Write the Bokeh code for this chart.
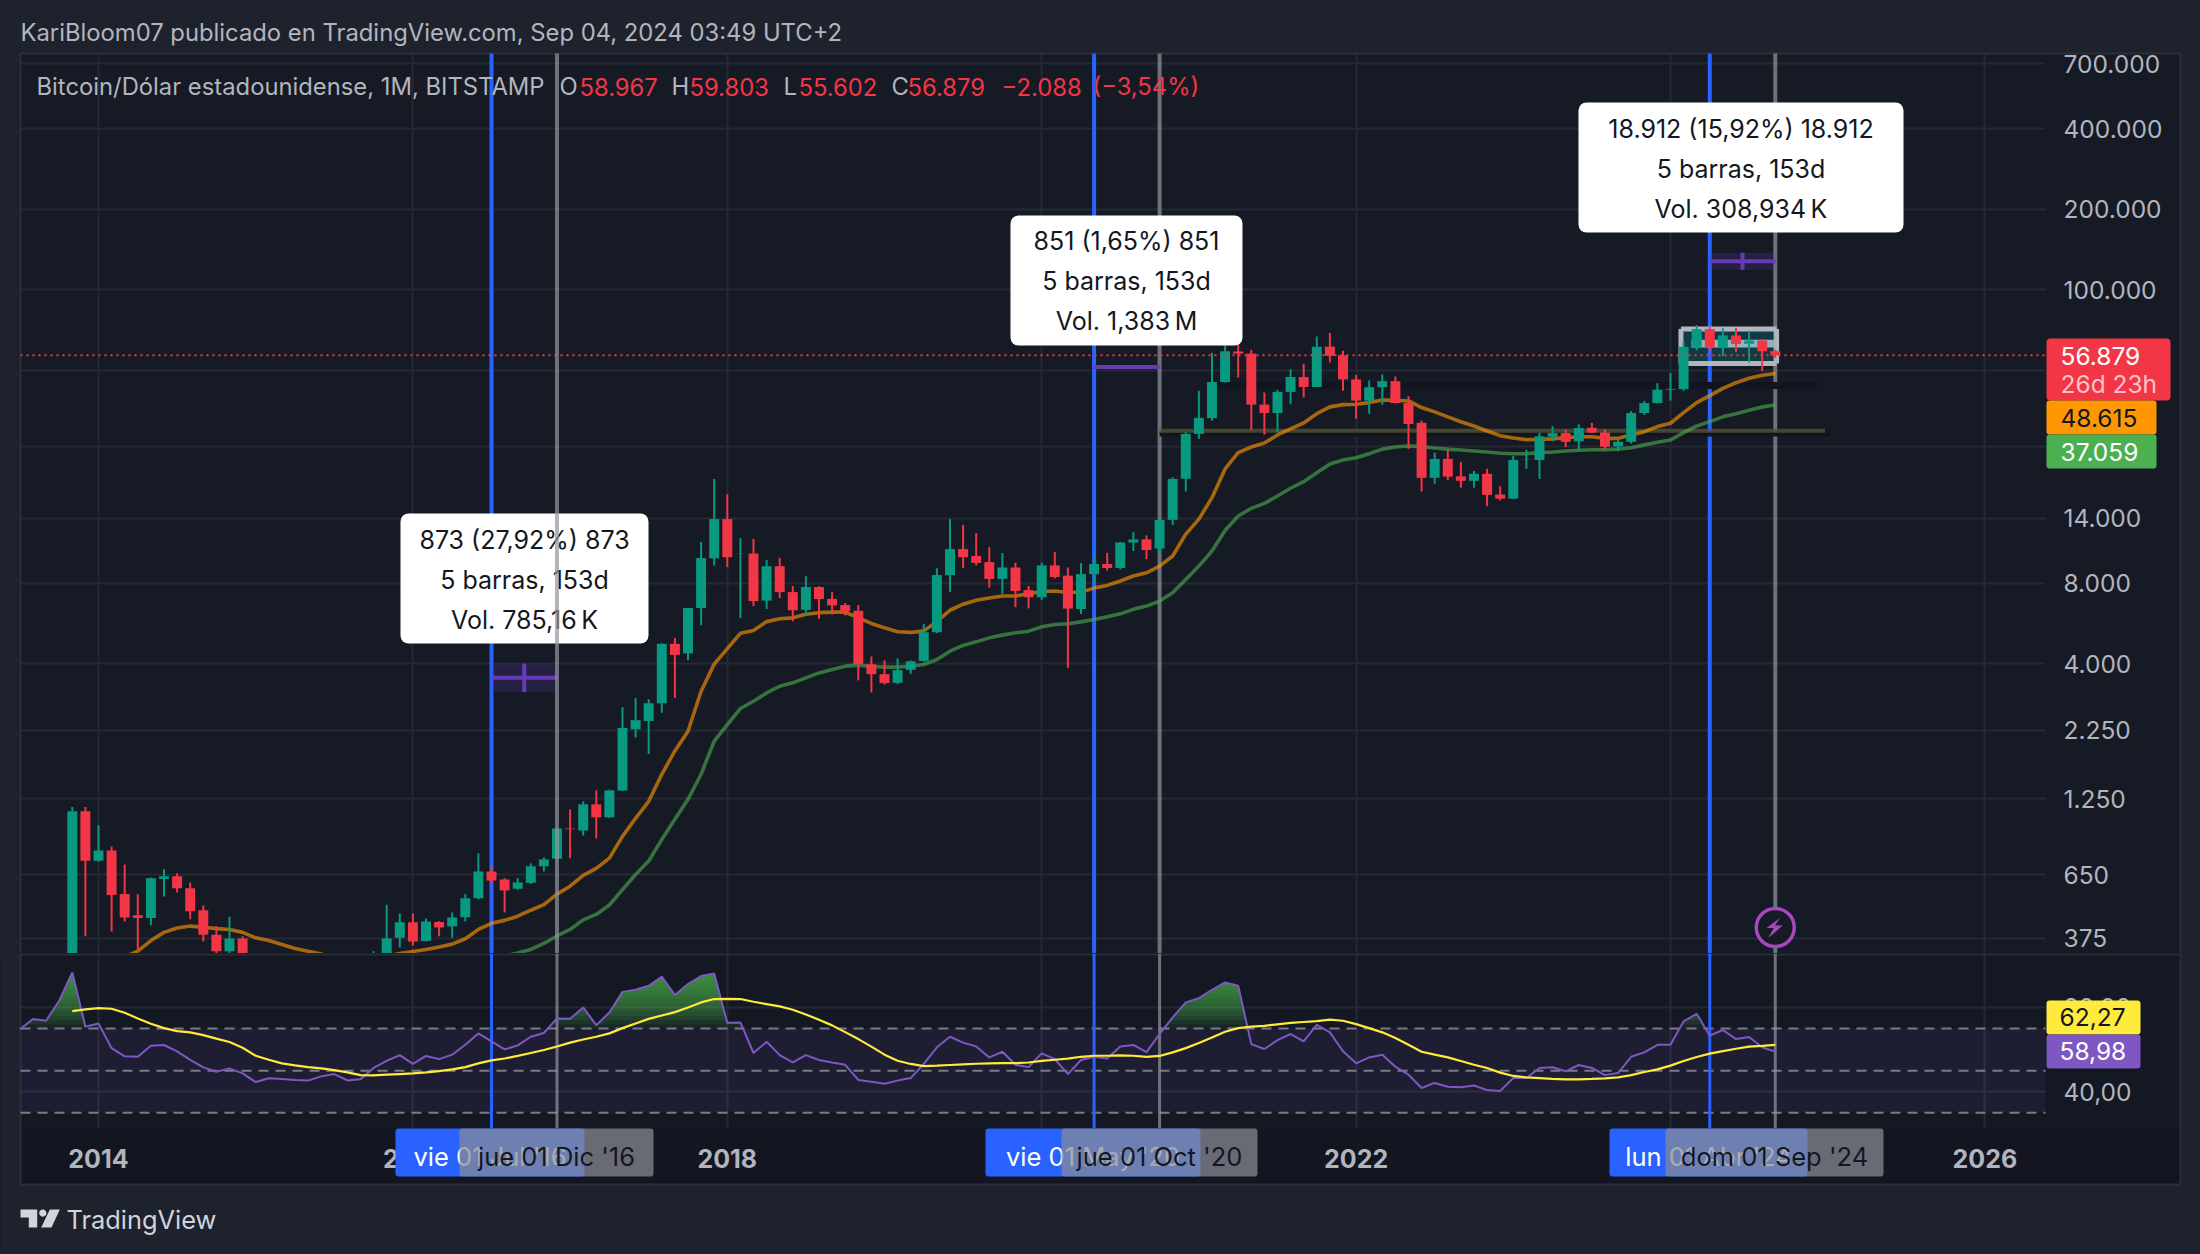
import numpy as np
from bokeh.plotting import figure
from bokeh.layouts import column
from bokeh.models import (Range1d, FixedTicker, Label, BoxAnnotation, PolyAnnotation)
from bokeh.embed import file_html
from bokeh.resources import INLINE

# ---------- data (monthly bars, index 0 = Jan 2014) ----------
first_bar = -2
opens = [206,1120,732,800,550,458,447,625,640,577,478,387,336,375,318,217,254,244,236,230,263,284,230,236,311,377,431,367,432,416,450,530,667,623,575,605,698,745,966,950,1190,1064,1340,2272,2440,2841,4740,4370,6450,9900,13880,10300,10320,6880,9250,7400,6350,7730,6980,6620,6300,3980,3650,3390,3790,4090,5240,8560,10720,10100,9580,8290,9150,7530,7080,9310,8530,6400,8640,9430,9110,11340,11650,10770,13790,19650,28900,33100,45200,58800,57700,37200,34600,41500,47200,43300,61300,56900,46200,38500,43200,45500,37700,31800,19800,23300,20050,19300,20500,17150,16550,23100,23100,28200,29100,27100,30450,29250,25950,27000,34600,37700,42300,42500,61200,71300,60600,67500,62800,64600,58967]
highs = [1163,1163,993,828,709,549,633,680,657,607,498,417,452,382,320,268,300,263,247,268,318,285,247,336,501,465,465,445,435,469,549,780,703,630,630,715,753,966,1140,1220,1342,1350,2746,2975,2941,4760,4990,6470,11390,19600,17200,11780,11700,9760,9950,7800,8480,7780,7400,6730,6620,4250,4110,4180,4110,5620,9090,13880,13190,12300,10900,10370,9530,7800,9530,10450,9150,9500,10080,10380,11400,12400,12060,13900,19900,29300,41900,58100,61700,64900,59600,41300,42200,50500,52900,66900,69000,59100,48000,45800,48200,47400,40000,32400,24600,25200,22700,21000,21400,18400,23900,25200,29200,30900,30000,31400,31800,30100,27500,35200,38400,44700,48900,63900,73800,72700,72000,71900,70000,65500,59803]
lows = [196,382,726,398,434,340,420,538,557,442,365,275,320,300,152,212,235,214,228,220,253,198,225,235,305,347,353,365,382,377,434,525,603,469,570,600,667,740,748,909,887,1060,1335,2119,1835,2617,2975,4110,5570,9300,9180,5920,6560,6400,7030,5760,6050,5880,6100,6050,3460,3120,3340,3350,3660,4060,5200,7400,9100,9300,7700,7300,6500,6430,6900,8330,3860,6130,8020,8920,9000,10540,9830,10270,13200,17600,27700,32400,44900,47000,29900,28700,29300,37300,39600,43200,53500,41900,32900,34400,37200,37600,25400,17600,18800,19400,18200,18200,15500,16300,16500,21400,19600,27100,25800,24800,29100,25300,24900,26600,34000,37600,38500,41900,59300,59200,56500,58500,53500,49600,55602]
closes = [1120,732,800,545,449,447,629,640,577,474,387,336,375,318,217,254,244,236,230,263,284,230,236,311,375,431,365,434,412,449,530,667,617,567,607,698,740,966,960,1190,1064,1342,2297,2456,2841,4740,4310,6450,9920,13880,10000,10320,6850,9250,7400,6330,7730,6970,6600,6270,3980,3650,3380,3780,4080,5240,8570,10720,10000,9520,8290,9150,7470,7080,9310,8430,6420,8640,9430,9110,11340,11650,10630,13770,19620,28900,33200,45200,58900,57700,37200,34600,41500,47200,43300,61200,56600,46200,38500,43200,45500,37700,31500,19800,23300,20000,19300,20500,17100,16550,23100,23150,28300,29100,27000,30400,29250,25900,27000,34600,37700,42300,42600,61200,71300,60600,67500,62700,64600,58900,56879]

ema_orange = [320,336,368,395,410,417,413,408,405,395,377,368,356,344,336,328,315,310,305,305,322,329,335,341,348,357,374,405,427,438,454,478,502,549,588,645,685,749,903,1055,1221,1541,1885,2232,3150,3980,4550,5190,5320,5740,5880,5930,6120,6200,6230,6230,5930,5650,5440,5260,5230,5300,5740,6330,6670,6900,7040,7160,7160,7300,7440,7470,7380,7400,7660,7840,8140,8500,8740,9260,10100,12200,13880,16690,21370,24590,25820,26740,28640,30180,31770,34420,36490,37190,37300,37850,38730,38650,38400,36270,34950,33470,32100,30950,29640,28470,27900,27500,27570,27700,27990,28200,28200,27820,27820,28640,29470,30780,31690,34700,37850,40200,42800,44900,46700,47900,48615]
ema_green = [322,331,341,359,383,405,440,461,500,571,650,730,879,1046,1242,1542,2049,2366,2716,2891,3106,3290,3388,3535,3690,3802,3911,3945,3899,3879,3879,3911,3968,4143,4449,4677,4822,4991,5110,5212,5287,5487,5602,5632,5728,5849,5980,6137,6379,6560,6850,7358,8255,9260,10540,12590,14250,15230,15890,16940,18100,19150,20700,22320,23100,23550,24380,25350,25830,26060,25900,25590,25360,25180,24950,24720,24470,24380,24380,24600,24720,24950,25100,25230,25230,25350,25670,26300,26920,27420,29220,30960,32130,33480,34420,35460,36480,37059]

rsi = [69.7,74.5,73.7,83.2,96.6,70.9,72.4,60.7,56.8,56.6,61.8,62.2,59.2,55.1,51.6,49.5,51.1,48.7,44.6,46.4,46.1,45.6,45.3,47.3,48.4,45.4,45.9,51.3,54.7,57.4,53.2,57,55.5,57.6,62.3,67.7,63.9,60.1,62,66.1,67.9,74.8,74.6,80,71.6,77.6,87.4,88.4,90.3,94.6,85.9,91.1,94.9,96.1,72.7,72.9,58.4,63.7,57.4,53.9,57.4,55.1,53.9,52.8,45.6,44.8,43.8,45.3,46.5,53.2,61.1,66.1,63.3,61.5,56.3,59,52.8,51.7,58.2,55.5,48.4,55.1,56.6,55.8,61.5,62.2,58.8,67.4,75.3,82.4,84.4,88.4,91.9,90.3,62.6,60.3,64.5,67.4,63.9,71.8,68.2,59.2,53.5,56.3,57.6,51.9,48.1,41.8,44.2,42.4,42.1,43,40.8,40.4,46.5,46.5,51.3,51.6,49.7,52.7,51.3,47.9,48.9,56.6,58.7,62.3,62.3,73.4,77,66.6,69.3,65,66,61.1,58.98]
rsi_ma = [78.3,79.1,79.7,79.4,77.5,74.8,72.3,70.2,68.8,68.2,66.9,65.2,63.6,60.9,57.1,55.2,53.5,52.5,51.7,51.1,50.3,49.2,47.9,47.8,48.1,48.4,48.7,49.2,49.8,50.6,51.7,53.5,54.9,55.8,57,58.4,59.8,61.5,63.3,64.8,66.1,67.7,70.2,72.4,74.6,76.2,77.8,80,82.4,84,84.1,84,82.7,81.6,80.5,78.9,76.7,74.2,71.5,68.3,65,61.4,57.6,54.7,53.2,52.2,52.4,52.7,53,53.3,53.5,53.6,53.6,53.9,54.7,55.2,55.7,56.6,57.1,57.1,57.3,57.1,56.6,57,58.7,60.7,63.1,65.8,68.5,70.2,70.9,71.3,72,72.7,73.1,73.5,74.2,73.7,72.1,70.2,68.2,65.5,62.3,59,57.6,56.3,54.6,52.8,51.3,49.1,47.5,46.8,46.5,46.1,45.9,45.9,46.1,46.4,46.8,47.9,49.4,50.6,52.4,54.6,56.5,58.1,59.3,60.4,61.4,61.8,62.27]

price_ticks = [700000,400000,200000,100000,50000,26000,14000,8000,4000,2250,1250,650,375]
price_labels = ["700.000","400.000","200.000","100.000","50.000","26.000","14.000","8.000","4.000","2.250","1.250","650","375"]
rsi_ticks = [40,80]
rsi_labels = ["40,00","80,00"]
year_ticks = [0,24,48,72,96,120,144]
year_labels = ["2014","2016","2018","2020","2022","2024","2026"]

range_starts = [30,76,123]      # Jul '16, May '20, Apr '24
range_ends = [35,81,128]        # Dic '16, Oct '20, Sep '24
measure_low = [3127,51000,118800]
measure_high = [4000,51851,137712]
last_price = 56879
level_a = 43900
level_b = 29700
box_low, box_high = 53000, 71400
band_low, band_high = 60800, 65000

# ---------- colours ----------
PAGE="#1E222D"; PANE="#161A25"; PANE2="#141823"; AXISBG="#131620"; GRID="#252934"; BORDER="#2A2E39"
UP="#089981"; DOWN="#F23645"; BLUE="#2962FF"; GRAY="#94959E"; TXT="#B2B5BE"; FONT="Inter"
AXFS="24.5px"; LEGFS="23.8px"; INFOFS="25px"; FLAGFS="25.5px"

# ---------- main pane: the frame fills the canvas, so that every note can be placed freely ----------
B1=953; B2=1254
x_pane_end=148.63; price_top=765000; rsi_bottom=22.7; rsi_top=105.6
p1 = figure(width=2200, height=B1, y_axis_type="log", y_axis_location="right",
            x_range=Range1d(-7.481,160.46), y_range=Range1d(329.3,1207900),
            output_backend="svg", toolbar_location=None, min_border=0, min_border_left=0, min_border_right=0,
            min_border_top=0, min_border_bottom=0, background_fill_color=PANE, border_fill_color=PAGE)
p1.outline_line_color=None
p1.xaxis.visible=False
p1.xgrid.ticker=FixedTicker(ticks=year_ticks)
p1.xgrid.grid_line_color=GRID; p1.xgrid.grid_line_width=2
p1.ygrid.grid_line_color=GRID; p1.ygrid.grid_line_width=2
ya=p1.yaxis[0]
ya.fixed_location=x_pane_end
ya.ticker=FixedTicker(ticks=price_ticks)
ya.major_label_overrides=dict(zip(price_ticks,price_labels))
ya.axis_line_color=None; ya.major_tick_line_color=None; ya.minor_tick_line_color=None
ya.major_label_text_color=TXT; ya.major_label_text_font=FONT; ya.major_label_text_font_size=AXFS
ya.major_label_standoff=12

# ---------- RSI pane ----------
p2 = figure(width=2200, height=B2-B1, y_axis_location="right",
            x_range=p1.x_range, y_range=Range1d(-37.2,rsi_top),
            output_backend="svg", toolbar_location=None, min_border=0, min_border_left=0, min_border_right=0,
            min_border_top=0, min_border_bottom=0, background_fill_color=PANE2, border_fill_color=PAGE)
p2.outline_line_color=None
p2.xgrid.ticker=FixedTicker(ticks=year_ticks)
p2.xgrid.grid_line_color=GRID; p2.xgrid.grid_line_width=2
p2.ygrid.grid_line_color=GRID; p2.ygrid.grid_line_width=2
ya2=p2.yaxis[0]
ya2.fixed_location=x_pane_end
ya2.ticker=FixedTicker(ticks=rsi_ticks)
ya2.major_label_overrides=dict(zip(rsi_ticks,rsi_labels))
ya2.axis_line_color=None; ya2.major_tick_line_color=None; ya2.minor_tick_line_color=None
ya2.major_label_text_color=TXT; ya2.major_label_text_font=FONT; ya2.major_label_text_font_size=AXFS
ya2.major_label_standoff=12
xa=p2.xaxis[0]
xa.fixed_location=rsi_bottom
xa.ticker=FixedTicker(ticks=year_ticks)
xa.major_label_overrides=dict(zip(year_ticks,year_labels))
xa.axis_line_color=None; xa.major_tick_line_color=None; xa.minor_tick_line_color=None
xa.major_label_text_color=TXT; xa.major_label_text_font=FONT; xa.major_label_text_font_size="25px"
xa.major_label_text_font_style="bold"; xa.major_label_standoff=15

# ---------- helpers in window pixels ----------
def box(p,bottom,x0,y0,x1,y1,color,alpha=1.0,radius=0,level="annotation"):
    b=BoxAnnotation(left=x0,right=x1,top=bottom-y0,bottom=bottom-y1,
        left_units="screen",right_units="screen",top_units="screen",bottom_units="screen",
        fill_color=color,fill_alpha=alpha,line_color=None,line_alpha=0,border_radius=radius,level=level)
    p.add_layout(b); return b
def text(p,bottom,x,y,s,color,size=LEGFS,align="left",style="normal",level="annotation"):
    l=Label(x=x,y=bottom-y,x_units="screen",y_units="screen",text=s,text_color=color,text_font=FONT,
        text_font_size=size,text_align=align,text_baseline="middle",text_font_style=style,level=level)
    p.add_layout(l); return l
def poly(p,bottom,pts,color):
    a=PolyAnnotation(xs=[x for x,y in pts],ys=[bottom-y for x,y in pts],xs_units="screen",ys_units="screen",
        fill_color=color,fill_alpha=1,line_color=None,line_alpha=0)
    p.add_layout(a)

# strips around the panes (they cover the grid where it should not be)
box(p1,B1,0,0,2200,53,PAGE,level="underlay")
box(p1,B1,0,0,20,953,PAGE,level="underlay")
box(p1,B1,2045,53,2180,953,PANE,level="underlay")
box(p1,B1,2180,0,2200,953,PAGE,level="underlay")
box(p2,B2,2045,953,2180,1128,PANE2,level="underlay")
box(p2,B2,20,1128,2180,1184,AXISBG,level="underlay")
box(p2,B2,0,1184,2200,1254,PAGE,level="underlay")
box(p2,B2,0,953,20,1254,PAGE,level="underlay")
box(p2,B2,2180,953,2200,1254,PAGE,level="underlay")

# borders
box(p1,B1,20,52,2180,54,BORDER,level="underlay")
box(p1,B1,19,53,21,953,BORDER,level="underlay")
box(p1,B1,2179,53,2181,953,BORDER,level="underlay")
box(p2,B2,19,953,21,1184,BORDER,level="underlay")
box(p2,B2,2179,953,2181,1184,BORDER,level="underlay")
box(p2,B2,20,1183,2180,1185,BORDER,level="underlay")
box(p2,B2,20,953,2180,955,BORDER,level="underlay")

# ---------- main glyphs ----------
idx=np.arange(first_bar,first_bar+len(opens))
O,H,Lo,C=map(np.array,(opens,highs,lows,closes))
cols=[UP if c>=o else DOWN for o,c in zip(O,C)]

# rectangle fill (behind the blue line)
x0b,x1b=120.8,128.1
p1.quad(left=[x0b],right=[x1b],top=[box_high],bottom=[box_low],fill_color="#123A44",line_color=None)
p1.quad(left=[121.6],right=[x1b],top=[band_high],bottom=[band_low],fill_color="#8EB4BF",line_color=None)

# vertical range lines
ybot=p1.y_range.start
p1.segment(x0=range_starts,x1=range_starts,y0=[ybot]*3,y1=[price_top]*3,line_color=BLUE,line_width=4)
p1.segment(x0=range_ends[1:],x1=range_ends[1:],y0=[ybot]*2,y1=[price_top]*2,line_color=GRAY,line_width=4,line_alpha=0.7)

# rectangle border
for a,b,c,d in [(x0b,x1b,box_high,box_high),(x0b,x1b,box_low,box_low),(x0b,x0b,box_low,box_high),(x1b,x1b,box_low,box_high)]:
    p1.segment(x0=[a],x1=[b],y0=[c],y1=[d],line_color="#B2B5BE",line_width=5)

# horizontal levels with dark edge
p1.segment(x0=[85.2],x1=[131.2],y0=[level_a],y1=[level_a],line_color="#12151F",line_width=7)
p1.segment(x0=[81],x1=[132.2],y0=[level_b*0.972],y1=[level_b*0.972],line_color="#12151F",line_width=5)
p1.segment(x0=[81],x1=[131.8],y0=[level_b],y1=[level_b],line_color="#5A5532",line_width=4,line_alpha=0.75)

# measure tools
mids=[(a*b)**0.5 for a,b in zip(measure_low,measure_high)]
cx=[(a+b)/2 for a,b in zip(range_starts,range_ends)]
p1.quad(left=range_starts,right=range_ends,top=measure_high,bottom=measure_low,fill_color="#673AB7",fill_alpha=0.2,line_color=None)
p1.segment(x0=range_starts,x1=range_ends,y0=mids,y1=mids,line_color="#673AB7",line_width=4)
p1.segment(x0=cx,x1=cx,y0=measure_low,y1=measure_high,line_color="#673AB7",line_width=4)

# moving averages
p1.line(np.arange(128-len(ema_orange)+1,129),ema_orange,line_color="#FF9800",line_width=3.6,line_alpha=0.62)
p1.line(np.arange(128-len(ema_green)+1,129),ema_green,line_color="#4CAF50",line_width=3.6,line_alpha=0.6)

# candles
p1.segment(x0=idx,x1=idx,y0=Lo,y1=H,line_color=cols,line_width=2)
p1.vbar(x=idx,width=0.76,top=np.maximum(O,C),bottom=np.minimum(O,C),fill_color=cols,line_color=None)

# last price dotted line
p1.segment(x0=[-5.954],x1=[x_pane_end],y0=[last_price],y1=[last_price],line_color=DOWN,line_width=2,line_dash="2 4")

# lightning marker
p1.scatter(x=[128],y=[412],size=38,marker="circle",fill_color=PANE,line_color="#AB47BC",line_width=3.5)
poly(p1,B1,[(1780,917),(1766,927.5),(1773.3,927.5),(1767.7,937.5),(1782.3,925),(1774.3,925)],"#AB47BC")

# info boxes
infos=[(400,513,648,643,["873 (27,92%) 873","5 barras, 153d","Vol. 785,16\u202fK"],[539,579,619]),
       (1010,215,1242,345,["851 (1,65%) 851","5 barras, 153d","Vol. 1,383\u202fM"],[240,280,320]),
       (1578,102,1903,232,["18.912 (15,92%) 18.912","5 barras, 153d","Vol. 308,934\u202fK"],[128,168,208])]
for x0,y0,x1,y1,lines,ys in infos:
    box(p1,B1,x0,y0,x1,y1,"white",radius=8)
    for s,y in zip(lines,ys):
        text(p1,B1,(x0+x1)/2,y,s,"#131722",size=INFOFS,align="center")
# the first grey line passes over its box
p1.segment(x0=[range_ends[0]],x1=[range_ends[0]],y0=[ybot],y1=[price_top],line_color=GRAY,line_width=4,line_alpha=0.7,level="overlay")

# header
text(p1,B1,20,32,"KariBloom07 publicado en TradingView.com, Sep 04, 2024 03:49 UTC+2",TXT)
text(p1,B1,36,86,"Bitcoin/Dólar estadounidense, 1M, BITSTAMP",TXT)
for x,s,c in [(559,"O",TXT),(579,"58.967",DOWN),(671,"H",TXT),(689,"59.803",DOWN),(783,"L",TXT),(798,"55.602",DOWN),
              (891,"C",TXT),(907,"56.879",DOWN),(1001,"\u22122.088",DOWN),(1092,"(\u22123,54%)",DOWN)]:
    text(p1,B1,x,86,s,c)

# price labels
box(p1,B1,2046,338,2170,400,DOWN,radius=4)
box(p1,B1,2046,400,2156,434,"#FF9800",radius=3)
box(p1,B1,2046,434,2156,468,"#4CAF50",radius=3)
text(p1,B1,2060,355,"56.879","white",size=AXFS)
text(p1,B1,2060,383,"26d 23h","#FBC3C9",size=AXFS)
text(p1,B1,2060,417,"48.615","#131722",size=AXFS)
text(p1,B1,2060,451,"37.059","white",size=AXFS)

# ---------- RSI glyphs ----------
x_rsi=np.arange(128-len(rsi)+1,129)
p2.quad(left=[-5.954],right=[x_pane_end],top=[70],bottom=[30],fill_color="#7E57C2",fill_alpha=0.1,line_color=None)
xf=np.linspace(x_rsi[0],x_rsi[-1],1340)
rf=np.interp(xf,x_rsi,rsi)
for lev in range(70,98,2):
    p2.varea(x=xf,y1=np.full_like(xf,lev),y2=np.maximum(rf,lev),fill_color="#4CAF50",fill_alpha=0.105)
for lev in [70,50,30]:
    p2.segment(x0=[-5.954],x1=[x_pane_end],y0=[lev],y1=[lev],line_color="#787B86",line_width=2,line_dash="10 7")
p2.segment(x0=range_starts,x1=range_starts,y0=[rsi_bottom]*3,y1=[rsi_top]*3,line_color=BLUE,line_width=3)
p2.segment(x0=range_ends,x1=range_ends,y0=[rsi_bottom]*3,y1=[rsi_top]*3,line_color=GRAY,line_width=3,line_alpha=0.7)
p2.line(x_rsi,rsi,line_color="#7E57C2",line_width=2)
p2.line(np.arange(128-len(rsi_ma)+1,129),rsi_ma,line_color="#FFEB3B",line_width=2.2)

box(p2,B2,2046,1000,2140,1034,"#FFEB3B",radius=3)
box(p2,B2,2046,1034,2140,1068,"#7E57C2",radius=3)
text(p2,B2,2059,1016,"62,27","#131722",size=AXFS)
text(p2,B2,2059,1050,"58,98","white",size=AXFS)

# time axis date flags
flags=[(395,584,"vie 01 Jul '16",459,653,"jue 01 Dic '16"),
       (985,1200,"vie 01 May '20",1061,1257,"jue 01 Oct '20"),
       (1609,1807,"lun 01 Abr '24",1665,1883,"dom 01 Sep '24")]
for a,b,s1,c,d,s2 in flags:
    box(p2,B2,a,1128,b,1176,BLUE,radius=3)
    text(p2,B2,(a+b)/2,1156,s1,"white",size=FLAGFS,align="center")
    box(p2,B2,c,1128,d,1176,"#898A94",alpha=0.72,radius=3)
    text(p2,B2,(c+d)/2,1156,s2,"#131722",size=FLAGFS,align="center")

# logo
logo="#D1D4DC"
poly(p2,B2,[(20,1209),(36.7,1209),(36.7,1227),(28.3,1227),(28.3,1217),(20,1217)],logo)
theta=np.linspace(0,2*np.pi,24)
poly(p2,B2,[(42.3+3.6*np.cos(t),1212.6+3.6*np.sin(t)) for t in theta],logo)
poly(p2,B2,[(49.3,1209),(59.3,1209),(51,1227),(40.7,1227)],logo)
text(p2,B2,66,1219,"TradingView",logo,size="25.4px")

root=column(p1,p2,spacing=0)
html=file_html(root,INLINE)
html=html.replace("</head>","<style>html,body{background:%s}</style></head>"%PAGE,1)
open("out.html","w").write(html)
